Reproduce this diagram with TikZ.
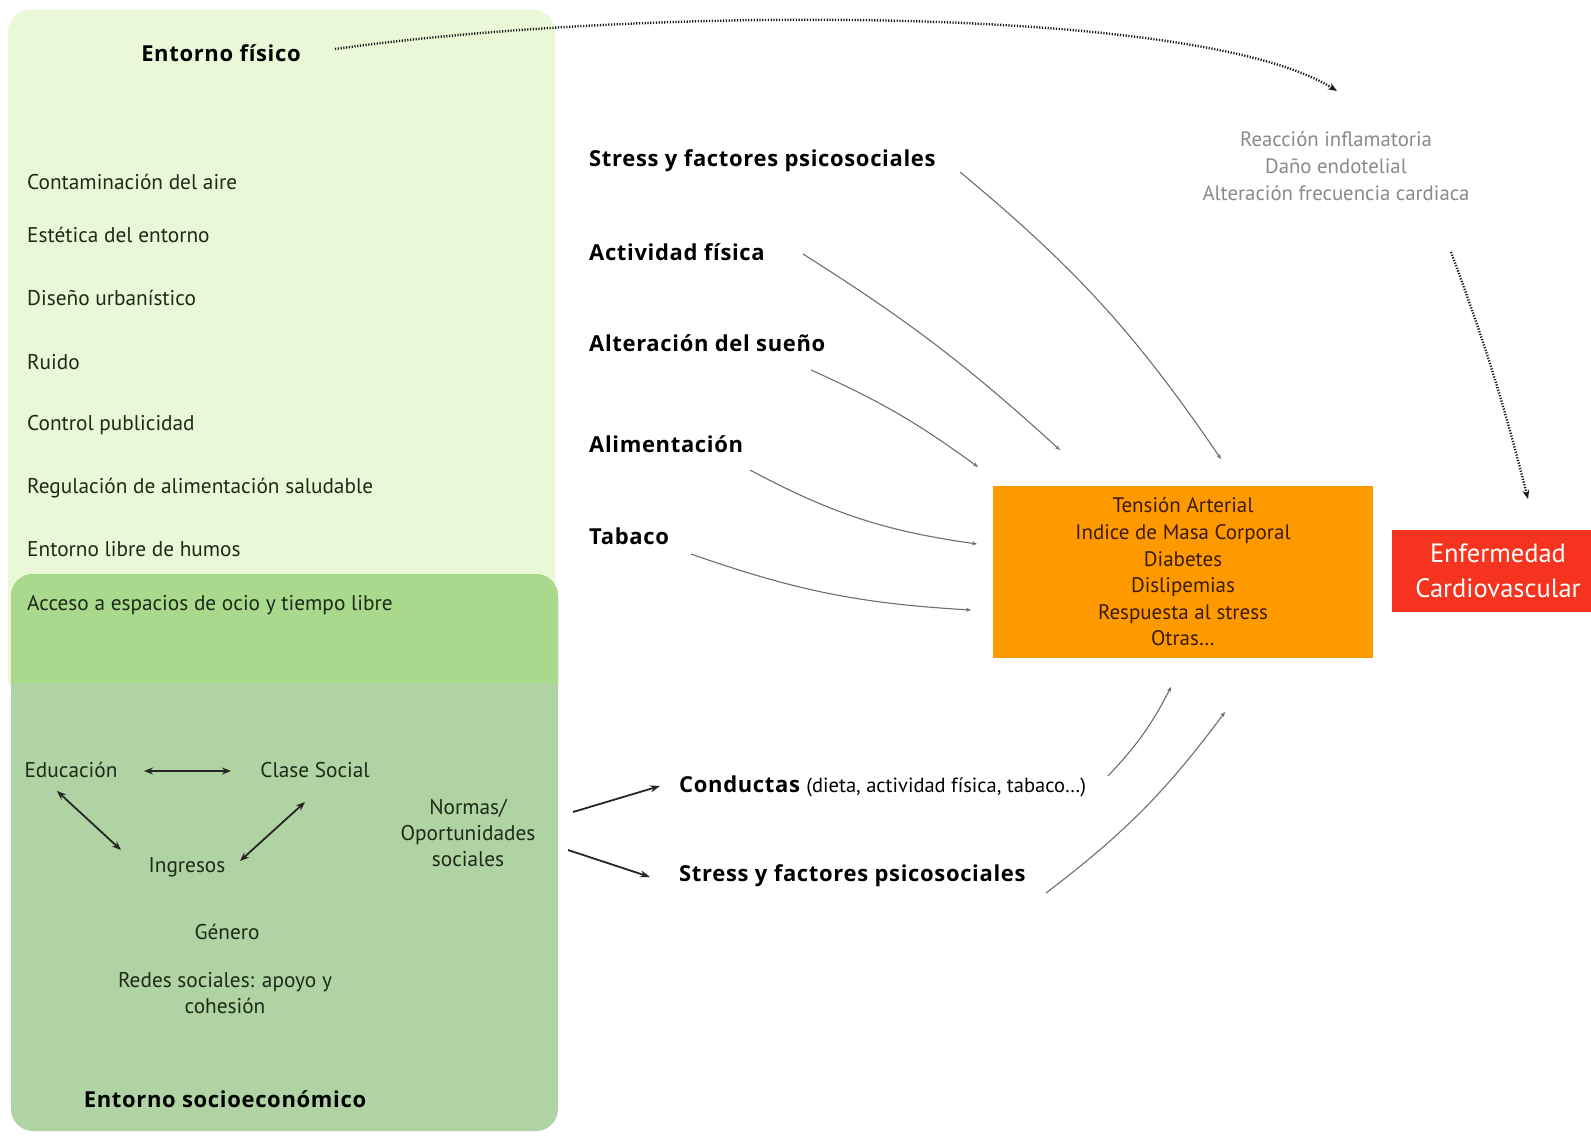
\documentclass[tikz,border=0pt]{standalone}
\usepackage{fontspec}
\setmainfont{PT Sans}
\newfontfamily\bfam{Open Sans}[LetterSpace=3]
\usetikzlibrary{arrows.meta}
\definecolor{lightg}{HTML}{EAF8D7}
\definecolor{bandg}{HTML}{A8D98D}
\definecolor{darkg}{HTML}{AFD3A3}
\definecolor{orng}{HTML}{FF9900}
\definecolor{redb}{HTML}{F5331F}
\definecolor{txtd}{HTML}{1E2A18}
\definecolor{mechg}{HTML}{8A8A8A}
\definecolor{curveg}{HTML}{6E6E6E}
\definecolor{otext}{HTML}{3A1C05}
\begin{document}
\begin{tikzpicture}[x=1pt,y=-1pt,
  reg/.style={font=\fontsize{21.3}{26}\selectfont, text=txtd, inner sep=0pt},
  bld/.style={font=\bfam\bfseries\fontsize{22}{26}\selectfont, text=black, inner sep=0pt},
  lw/.style={reg, anchor=west},
  bw/.style={bld, anchor=west},
  gcurve/.style={draw=curveg, line width=1.1pt, -{Stealth[length=5pt,width=4pt]}},
  blarrow/.style={draw=black!85, line width=1.8pt, -{Stealth[length=10pt,width=7pt]}},
  dblarrow/.style={draw=black!85, line width=1.8pt, {Stealth[length=9pt,width=7pt]}-{Stealth[length=9pt,width=7pt]}},
  dotarrow/.style={draw=black!90, line width=2.4pt, dash pattern=on 1.2pt off 1.6pt, -{Stealth[length=9pt,width=7pt]}}
]
\useasboundingbox (0,0) rectangle (1591,1137);
\fill[white] (0,0) rectangle (1591,1137);
% boxes
\fill[lightg, rounded corners=22] (8,10) rectangle (555,700);
\fill[darkg, rounded corners=22] (11,574) rectangle (558,1131);
\begin{scope}
  \clip (0,560) rectangle (600,682);
  \fill[bandg, rounded corners=22] (11,574) rectangle (558,1131);
\end{scope}

% left texts
\node[bld] (ef) at (221,53) {Entorno físico};
\node[lw] (c1) at (27,182) {Contaminación del aire};
\node[lw] (c2) at (27,235) {Estética del entorno};
\node[lw] (c3) at (27,298) {Diseño urbanístico};
\node[lw] (c4) at (27,362) {Ruido};
\node[lw] (c5) at (27,425) {Control publicidad};
\node[lw] (c6) at (27,488) {Regulación de alimentación saludable};
\node[lw] (c7) at (27,549) {Entorno libre de humos};
\node[lw] (c8) at (27,605) {Acceso a espacios de ocio y tiempo libre};

\node[reg] (edu) at (71,770) {Educación};
\node[reg] (clase) at (315,770) {Clase Social};
\node[reg] (ingr) at (187,867) {Ingresos};
\node[reg, align=center] (normas) at (468,833) {Normas/\\Oportunidades\\sociales};
\node[reg] (genero) at (227,932) {Género};
\node[reg, align=center] (redes) at (225,993) {Redes sociales: apoyo y\\cohesión};
\node[bld] (ese) at (225,1099) {Entorno socioeconómico};

\coordinate (e1a) at (144,771); \coordinate (e1b) at (231,771);
\coordinate (e2a) at (57,791);  \coordinate (e2b) at (121,850);
\coordinate (e3a) at (240,861); \coordinate (e3b) at (305,802);
\draw[dblarrow] (e1a) -- (e1b);
\draw[dblarrow] (e2a) -- (e2b);
\draw[dblarrow] (e3a) -- (e3b);

% middle labels
\node[bw] (s1) at (589,161) {Stress y factores psicosociales};
\node[bw] (af) at (589,252) {Actividad física};
\node[bw] (asu) at (589,343) {Alteración del sueño};
\node[bw] (al) at (589,444) {Alimentación};
\node[bw] (tab) at (589,536) {Tabaco};

% orange box
\node[fill=orng, minimum width=380, minimum height=172, inner sep=0pt, text=otext, align=center,
      font=\fontsize{21}{26.6}\selectfont] (ob) at (1183,572)
  {Tensión Arterial\\Indice de Masa Corporal\\Diabetes\\Dislipemias\\Respuesta al stress\\Otras…};

% red box
\node[fill=redb, minimum width=212, minimum height=82, inner sep=0pt, text=white, align=center,
      font=\fontsize{26.5}{35}\selectfont] (cvd) at (1498,571) {Enfermedad\\Cardiovascular};

% mechanisms
\node[text=mechg, align=center, inner sep=0pt, font=\fontsize{20.8}{27}\selectfont] (mech) at (1336,166)
  {Reacción inflamatoria\\Daño endotelial\\Alteración frecuencia cardiaca};

% curves to orange box
\coordinate (g1a) at (960,172);  \coordinate (g1b) at (1221,459);
\coordinate (g2a) at (803,254);  \coordinate (g2b) at (1060,450);
\coordinate (g3a) at (811,370);  \coordinate (g3b) at (978,467);
\coordinate (g4a) at (750,470);  \coordinate (g4b) at (977,544);
\coordinate (g5a) at (691,554);  \coordinate (g5b) at (971,610);
\draw[gcurve] (g1a) to[bend left=8] (g1b);
\draw[gcurve] (g2a) to[bend left=5] (g2b);
\draw[gcurve] (g3a) to[bend left=6] (g3b);
\draw[gcurve] (g4a) to[bend right=10] (g4b);
\draw[gcurve] (g5a) to[bend right=8] (g5b);

% lower section
\node[anchor=west, inner sep=0pt, text=black] (cond) at (679,786)
  {\bfam\bfseries\fontsize{22}{26}\selectfont Conductas \rmfamily\mdseries\fontsize{20.5}{24}\selectfont(dieta, actividad física, tabaco…)};
\node[bw] (s2) at (679,876) {Stress y factores psicosociales};
\coordinate (n1a) at (573,812); \coordinate (n1b) at (660,786);
\coordinate (n2a) at (568,850); \coordinate (n2b) at (650,877);
\draw[blarrow] (n1a) -- (n1b);
\draw[blarrow] (n2a) -- (n2b);
\coordinate (u1a) at (1108,776); \coordinate (u1b) at (1171,687);
\coordinate (u2a) at (1046,893); \coordinate (u2b) at (1225,712);
\draw[gcurve] (u1a) to[bend right=8] (u1b);
\draw[gcurve] (u2a) to[bend right=8] (u2b);

% dotted arrows
\coordinate (d1a) at (335,49); \coordinate (d1b) at (1337,91);
\draw[dotarrow] (d1a) .. controls (650,5) and (1200,5) .. (d1b);
\coordinate (d2a) at (1451,252); \coordinate (d2b) at (1528,499);
\draw[dotarrow] (d2a) to[bend left=3] (d2b);
\end{tikzpicture}
\end{document}
